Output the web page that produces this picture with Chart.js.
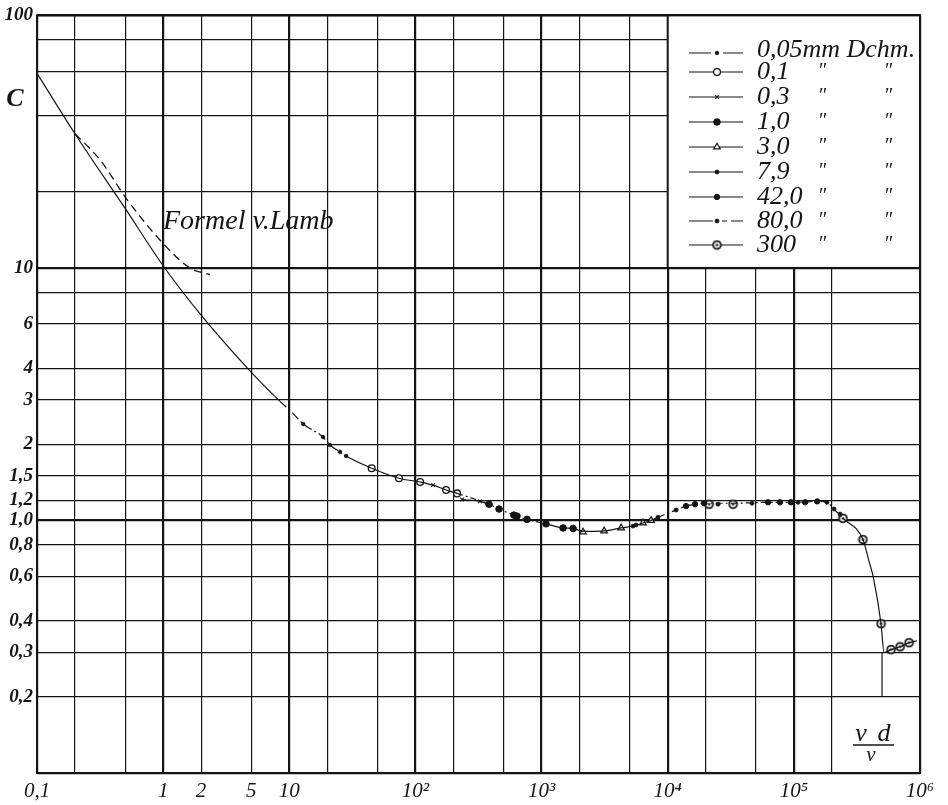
<!DOCTYPE html>
<html>
<head>
<meta charset="utf-8">
<script src="https://cdn.jsdelivr.net/npm/chart.js@4.4.0/dist/chart.umd.min.js"></script>
<style>
  html, body { margin: 0; background: #fff; }
  canvas { display: block; }
</style>
</head>
<body>
<canvas id="chart" width="948" height="805"></canvas>
<script>
// Widerstandsziffer C über vd/ν (Kugeln)

// durchgezogene Kurve
const kurveRe = [0.1, 0.2, 0.5, 1, 2, 5, 8.4, 10.5, 12.9, 18.5, 21, 25.2, 28.2, 45, 74, 109, 138, 175, 214,
  383, 460, 603, 767, 1084, 1480, 1778, 2133, 3130, 4270, 5310, 6370, 7380, 8380, 11640, 13970, 16470,
  19400, 32960, 62400, 108000, 153000, 183000, 208000, 245000, 353000, 394000, 425000, 491000, 519000,
  589000, 695000, 819000, 946000];
const kurveC = [59, 34, 17.2, 10.2, 6.5, 3.86, 2.97, 2.68, 2.41, 2.14, 1.99, 1.87, 1.80, 1.61, 1.47, 1.42, 1.38, 1.32, 1.28,
  1.16, 1.11, 1.05, 1.01, 0.97, 0.934, 0.93, 0.905, 0.91, 0.934, 0.95, 0.977, 1.0, 1.03, 1.10, 1.14, 1.16,
  1.17, 1.17, 1.18, 1.18, 1.19, 1.18, 1.11, 1.02, 0.84, 0.69, 0.60, 0.39, 0.30,
  0.308, 0.316, 0.328, 0.334];

// Formel v. Lamb (gestrichelt)
const lambRe = [0.2, 0.316, 0.516, 1, 1.63, 2.35];
const lambC = [34, 26.8, 18.7, 12.5, 10.0, 9.4];

// kurzer Nebenzweig der 0,3-mm-Messungen
const zweigRe = [234, 325, 383];
const zweigC = [1.21, 1.19, 1.16];

// Messpunkte je Drahtdurchmesser
const durchmesser = ['0,05', '0,1', '0,3', '1,0', '3,0', '7,9', '42,0', '80,0', '300'];
const d005Re = [12.9, 18.5, 21, 25.2, 28.2];
const d005C = [2.41, 2.14, 1.99, 1.87, 1.80];
const d01Re = [45, 74, 109, 175, 214];
const d01C = [1.61, 1.47, 1.42, 1.32, 1.28];
const d03Re = [138, 234, 325];
const d03C = [1.38, 1.21, 1.19];
const d10Re = [383, 460, 603, 638, 767, 1084, 1480, 1778];
const d10C = [1.16, 1.11, 1.05, 1.04, 1.01, 0.97, 0.934, 0.93];
const d30Re = [2133, 3130, 4270, 6370, 7380];
const d30C = [0.90, 0.909, 0.934, 0.977, 1.0];
const d79Re = [5310, 5610, 8380, 11640];
const d79C = [0.95, 0.96, 1.03, 1.10];
const d42Re = [13970, 16470, 19400, 62400, 77600, 94800, 123000, 153000];
const d42C = [1.14, 1.16, 1.17, 1.18, 1.18, 1.18, 1.18, 1.19];
const d80Re = [25060, 46600, 108000, 183000, 208000, 232000];
const d80C = [1.16, 1.17, 1.18, 1.18, 1.11, 1.06];
const d300Re = [21250, 32960, 245000, 353000, 491000, 589000, 695000, 819000];
const d300C = [1.16, 1.16, 1.02, 0.84, 0.39, 0.308, 0.316, 0.328];

// Achsen
const xGitter = [0.1, 0.2, 0.5, 1, 2, 5, 10, 20, 50, 100, 200, 500, 1e3, 2e3, 5e3, 1e4, 2e4, 5e4, 1e5, 2e5, 5e5, 1e6];
const xTicks = ['0,1', '', '', '1', '2', '5', '10', '', '', '10²', '', '', '10³', '', '', '10⁴', '', '', '10⁵', '', '', '10⁶'];
const yGitter = [0.1, 0.2, 0.3, 0.4, 0.6, 0.8, 1, 1.2, 1.5, 2, 3, 4, 6, 8, 10, 20, 40, 60, 80, 100];
const yTicks = ['', '0,2', '0,3', '0,4', '0,6', '0,8', '1,0', '1,2', '1,5', '2', '3', '4', '6', '', '10', '', '', '', '', '100'];

const INK = '#141414';
const SERIF = "'Liberation Serif', 'DejaVu Serif', serif";

function pts(xs, ys) { return xs.map((x, i) => ({ x: x, y: ys[i] })); }

// Kreis mit Punkt (300 mm)
const ring = (() => {
  const c = document.createElement('canvas');
  c.width = 11; c.height = 11;
  const g = c.getContext('2d');
  g.beginPath(); g.arc(5.5, 5.5, 3.9, 0, 2 * Math.PI);
  g.fillStyle = '#fff'; g.fill();
  g.lineWidth = 1.8; g.strokeStyle = INK; g.stroke();
  g.beginPath(); g.arc(5.5, 5.5, 1.3, 0, 2 * Math.PI);
  g.fillStyle = INK; g.fill();
  return c;
})();

const marker = [
  { pointStyle: 'circle', radius: 1.8, bg: INK, bw: 0.8 },
  { pointStyle: 'circle', radius: 3.4, bg: '#fff', bw: 1.3 },
  { pointStyle: 'crossRot', radius: 2.6, bg: INK, bw: 1.1 },
  { pointStyle: 'circle', radius: 3.3, bg: INK, bw: 1 },
  { pointStyle: 'triangle', radius: 3.8, bg: '#fff', bw: 1.2 },
  { pointStyle: 'circle', radius: 2.0, bg: INK, bw: 0.8 },
  { pointStyle: 'circle', radius: 2.7, bg: INK, bw: 1 },
  { pointStyle: 'circle', radius: 2.0, bg: INK, bw: 0.8 },
  { pointStyle: ring, radius: 4, bg: '#fff', bw: 1 }
];
const serien = [
  [d005Re, d005C], [d01Re, d01C], [d03Re, d03C], [d10Re, d10C], [d30Re, d30C],
  [d79Re, d79C], [d42Re, d42C], [d80Re, d80C], [d300Re, d300C]
];

// Strichart der Hauptkurve abschnittsweise
function kurveDash(ctx) {
  const x = ctx.p0.parsed.x;
  if (x >= 8 && x < 28) return [9, 3, 2, 3];
  if (x >= 214 && x < 1000) return [6, 3, 2, 3];
  if (x >= 8000 && x < 240000) return [7, 3, 2, 3];
  return undefined;
}

const datasets = [
  {
    data: pts(kurveRe, kurveC), showLine: true, borderColor: INK, borderWidth: 1.2,
    pointRadius: 0, cubicInterpolationMode: 'monotone', segment: { borderDash: kurveDash }
  },
  {
    data: pts(lambRe, lambC), showLine: true, borderColor: INK, borderWidth: 1.3,
    borderDash: [8, 5], pointRadius: 0, cubicInterpolationMode: 'monotone'
  },
  {
    data: pts(zweigRe, zweigC), showLine: true, borderColor: INK, borderWidth: 1.1,
    pointRadius: 0, cubicInterpolationMode: 'monotone'
  }
];
serien.forEach((s, i) => {
  const m = marker[i];
  datasets.push({
    label: durchmesser[i], data: pts(s[0], s[1]), showLine: false,
    pointStyle: m.pointStyle, pointRadius: m.radius, pointBorderWidth: m.bw,
    pointBackgroundColor: m.bg, pointBorderColor: INK
  });
});

function gridColor(ctx) {
  return ctx.tick && ctx.tick.value === 5e5 ? 'rgba(0,0,0,0)' : INK;
}
function gridWidth(ctx) {
  if (!ctx.tick) return 1.2;
  const l = Math.log10(ctx.tick.value);
  return Math.abs(l - Math.round(l)) < 1e-9 ? 2.2 : 1.2;
}

const beschriftung = {
  id: 'beschriftung',
  afterDatasetsDraw(chart) {
    const g = chart.ctx;
    const a = chart.chartArea;
    const xs = chart.scales.x, ys = chart.scales.y;
    g.save();
    g.strokeStyle = INK;
    g.fillStyle = INK;

    // Teilstück der 5·10⁵-Linie
    const x5 = xs.getPixelForValue(5e5);
    g.lineWidth = 1.2;
    g.beginPath();
    g.moveTo(x5, ys.getPixelForValue(0.3));
    g.lineTo(x5, ys.getPixelForValue(0.2));
    g.stroke();

    // Rahmen
    g.lineWidth = 2;
    g.strokeRect(a.left, a.top, a.right - a.left, a.bottom - a.top);

    // Legendenkasten
    const bx = xs.getPixelForValue(1e4), by = ys.getPixelForValue(10);
    g.fillStyle = '#fff';
    g.fillRect(bx, a.top, a.right - bx, by - a.top);
    g.strokeRect(bx, a.top, a.right - bx, by - a.top);

    const zeilen = [53, 72, 97, 122, 147, 172, 197, 221, 245];
    g.font = 'italic 26px ' + SERIF;
    g.textBaseline = 'middle';
    zeilen.forEach((y, i) => {
      const m = marker[i];
      g.strokeStyle = INK;
      g.lineWidth = 1.1;
      g.setLineDash(i === 7 ? [] : []);
      g.beginPath();
      if (i === 0) {
        g.moveTo(689, y); g.lineTo(711, y);
        g.moveTo(723, y); g.lineTo(743, y);
      } else if (i === 7) {
        g.moveTo(689, y); g.lineTo(713, y);
        g.moveTo(722, y); g.lineTo(727, y);
        g.moveTo(731, y); g.lineTo(743, y);
      } else {
        g.moveTo(689, y); g.lineTo(743, y);
      }
      g.stroke();
      g.fillStyle = m.bg;
      g.lineWidth = m.bw;
      Chart.helpers.drawPoint(g, { pointStyle: m.pointStyle, radius: m.radius, rotation: 0, borderWidth: m.bw }, 717, y);
      g.fillStyle = INK;
      g.textAlign = 'left';
      if (i === 0) {
        g.fillText(durchmesser[i] + 'mm Dchm.', 757, y - 3);
      } else {
        g.fillText(durchmesser[i], 757, y);
        g.textAlign = 'center';
        g.font = 'italic 20px ' + SERIF;
        g.fillText('″', 822, y);
        g.fillText('″', 888, y);
        g.font = 'italic 26px ' + SERIF;
      }
    });

    // Achsenbezeichnungen und Kurvenname
    g.fillStyle = INK;
    g.textAlign = 'center';
    g.textBaseline = 'middle';
    g.font = 'bold italic 26px ' + SERIF;
    g.fillText('C', 15, 99);

    g.textAlign = 'left';
    g.font = 'italic 28px ' + SERIF;
    g.fillText('Formel v.Lamb', 163, 222);

    g.textAlign = 'center';
    g.textBaseline = 'alphabetic';
    g.font = 'italic 26px ' + SERIF;
    g.fillText('v', 861, 741);
    g.fillText('d', 884, 741);
    g.lineWidth = 1.4;
    g.beginPath(); g.moveTo(853, 745); g.lineTo(894, 745); g.stroke();
    g.font = 'italic 21px ' + SERIF;
    g.fillText('ν', 871, 761);
    g.restore();
  }
};

new Chart(document.getElementById('chart'), {
  type: 'scatter',
  data: { datasets: datasets },
  options: {
    responsive: false,
    animation: false,
    layout: { padding: { top: 15, right: 28, left: 0, bottom: 0 } },
    plugins: { legend: { display: false }, tooltip: { enabled: false } },
    scales: {
      x: {
        type: 'logarithmic', min: 0.1, max: 1e6,
        afterBuildTicks: s => { s.ticks = xGitter.map(v => ({ value: v })); },
        afterFit: s => { s.height = 32; },
        border: { display: false },
        grid: { drawTicks: false, color: gridColor, lineWidth: gridWidth },
        ticks: {
          autoSkip: false, maxRotation: 0, minRotation: 0, padding: 6, color: INK,
          font: { family: SERIF, style: 'italic', size: 21 },
          callback: (v, i) => xTicks[i]
        }
      },
      y: {
        type: 'logarithmic', min: 0.1, max: 100,
        afterBuildTicks: s => { s.ticks = yGitter.map(v => ({ value: v })); },
        afterFit: s => { s.width = 37; },
        border: { display: false },
        grid: { drawTicks: false, color: INK, lineWidth: gridWidth },
        ticks: {
          autoSkip: false, padding: 4, color: INK,
          font: { family: SERIF, style: 'italic', weight: 'bold', size: 19 },
          callback: (v, i) => yTicks[i]
        }
      }
    }
  },
  plugins: [beschriftung]
});
</script>
</body>
</html>
